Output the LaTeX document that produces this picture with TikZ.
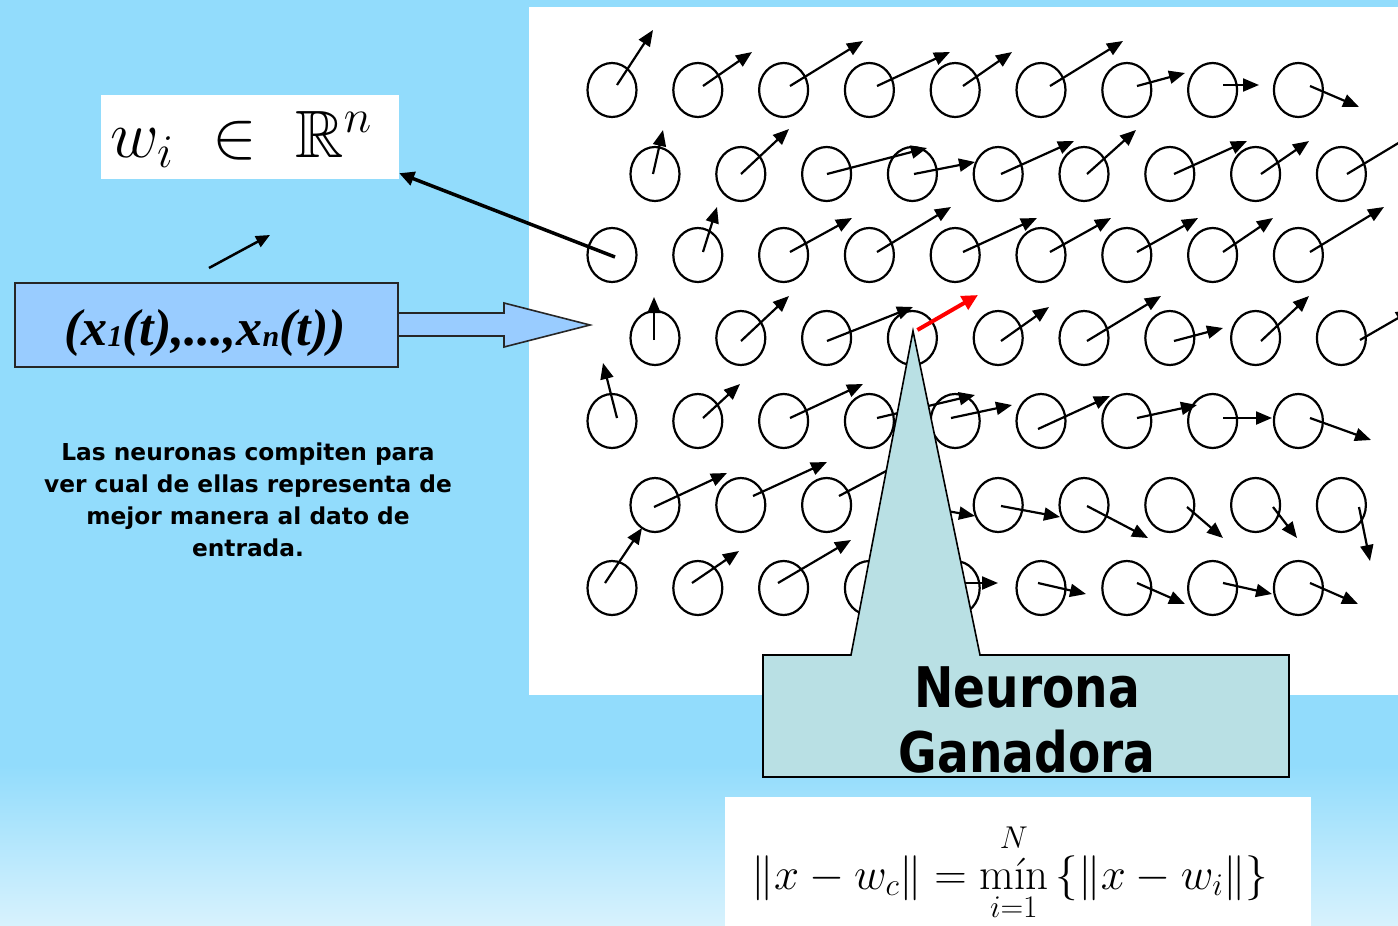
\RequirePackage{fix-cm}
\documentclass[tikz,border=0pt]{standalone}
\usepackage{amsmath,amssymb}
\DeclareFontFamily{U}{msb}{}
\DeclareFontShape{U}{msb}{m}{n}{<-> msbm10}{}
\usepackage{fontspec}
\usetikzlibrary{arrows.meta,shapes.geometric}
\newfontfamily\verdfont{DejaVu Sans}
\newfontfamily\tahfont[FakeStretch=0.84]{DejaVu Sans}
\newfontfamily\timesfont{Liberation Serif}
\definecolor{bgblue}{RGB}{146,220,252}
\definecolor{bglight}{RGB}{216,242,253}
\definecolor{inbox}{RGB}{153,204,255}
\definecolor{calloutfill}{RGB}{185,224,228}
\tikzset{
  neuron/.style={ellipse,draw=black,line width=2.2pt,minimum width=49pt,minimum height=54pt,inner sep=0pt},
  garrow/.style={line width=2.2pt,-{Triangle[length=16pt,width=13pt]}},
  bigarrow/.style={line width=3.5pt,-{Triangle[length=15pt,width=14pt]}},
  redarrow/.style={draw=red,line width=4pt,-{Triangle[length=16pt,width=15pt]}},
  smallarrow/.style={line width=2.5pt,-{Triangle[length=14pt,width=12pt]}},
  calloutbox/.style={fill=calloutfill,draw=black,line width=1.6pt,line join=miter},
  inputbox/.style={fill=inbox,draw=black!85,line width=1.6pt},
}
\begin{document}
\begin{tikzpicture}[x=1pt,y=-1pt]
\useasboundingbox (0,0) rectangle (1398,926);
% background
\fill[bgblue] (0,0) rectangle (1398,926);
\shade[top color=bgblue,bottom color=bglight] (0,765) rectangle (1398,926.5);
% white panel
\fill[white] (529,7) rectangle (1398,695);
% neurons
\foreach \r/\yy in {1/90,2/174,3/255,4/338,5/421,6/505,7/588} {
  \foreach \k in {0,...,8} {
    \pgfmathsetmacro\xx{(mod(\r,2)==1 ? 612 : 655) + 85.8*\k}
    \node[neuron] (c-\r-\k) at (\xx,\yy) {};
  }
}
% weight arrows
\foreach \a/\b/\c/\d in {
  617/85/653/30, 703/86/752/52, 790/86/863/41, 877/86/950/52, 963/86/1012/52,
  1050/86/1123/41, 1137/86/1185/73, 1223/85/1259/85, 1310/86/1359/107,
  653/174/663/130, 741/174/789/129, 827/174/927/148, 914/174/975/162, 1001/174/1074/141,
  1087/174/1136/130, 1174/174/1247/141, 1261/174/1309/141, 1347/174/1420/130,
  703/252/717/207, 790/252/852/218, 877/252/951/207, 963/252/1037/218,
  1050/252/1111/218, 1137/252/1198/218, 1223/252/1273/218, 1310/252/1384/207,
  654/340/654/297, 741/341/789/296, 827/341/913/307, 1001/341/1049/307,
  1087/341/1161/296, 1174/341/1223/328, 1261/341/1309/296, 1360/340/1412/310,
  617/418/603/363, 703/418/740/384, 790/418/863/384, 877/418/975/395, 951/418/1012/405,
  1038/429/1110/396, 1137/418/1197/405, 1223/418/1272/418, 1310/418/1371/440,
  654/507/727/473, 753/496/827/462, 839/496/905/461, 914/505/975/516, 1001/506/1060/517,
  1087/506/1148/538, 1187/507/1223/538, 1273/507/1297/538, 1359/507/1370/561,
  605/583/642/528, 692/583/739/551, 778/583/851/540, 963/583/998/583,
  1038/583/1086/594, 1137/583/1185/604, 1223/583/1272/594, 1310/583/1358/604}
  \draw[garrow] (\a,\b) -- (\c,\d);
% winner
\coordinate (wintip) at (978,295);
\draw[redarrow] ([xshift=5pt,yshift=8pt]c-4-3.center) -- (wintip);
% callout
\draw[calloutbox] (763,655) -- (851,655) -- (913,331) -- (980,655) -- (1289,655) -- (1289,777) -- (763,777) -- cycle;
\node[anchor=north,align=center,inner sep=0pt,font={\tahfont\bfseries\fontsize{56}{65}\selectfont}] (winner) at (1027,666) {Neurona\\Ganadora};
% w_i box
\node[fill=white,minimum width=298pt,minimum height=84pt,inner sep=0pt] (wbox) at (250,137) {};
\node[anchor=base,inner sep=0pt,font={\fontsize{67}{70}\selectfont}] (wtext) at (241,157) {$w_i \ \in\ \mathbb{R}^n$};
\draw[bigarrow] ([xshift=3pt,yshift=-2pt]c-3-0.center) -- ([yshift=6pt]wbox.south east);
% small arrow
\coordinate (sa1) at (209,268);
\coordinate (sa2) at (270,235);
\draw[smallarrow] (sa1) -- (sa2);
% input box and block arrow
\fill[inbox] (396,313) -- (504,313) -- (504,303) -- (590,325) -- (504,347) -- (504,336) -- (396,336) -- cycle;
\draw[draw=black!85,line width=1.6pt,line join=miter] (398,313) -- (504,313) -- (504,303) -- (590,325) -- (504,347) -- (504,336) -- (398,336);
\node[inputbox,minimum width=383pt,minimum height=84pt,inner sep=0pt] (xbox) at (206.5,325) {};
\node[anchor=base,inner sep=0pt,font={\timesfont\bfseries\itshape\fontsize{52}{56}\selectfont}] (xtext) at (205,345)
  {(x\raisebox{-1pt}{\fontsize{30}{30}\selectfont 1}(t),...,x\raisebox{-1pt}{\fontsize{30}{30}\selectfont n}(t))};
% description
\node[anchor=north,align=center,inner sep=0pt,font={\verdfont\bfseries\fontsize{23.3}{32}\selectfont}] (desc) at (248,442.5)
  {Las neuronas compiten para\\ver cual de ellas representa de\\mejor manera al dato de\\entrada.};
% formula box
\node[fill=white,minimum width=586pt,minimum height=130pt,inner sep=0pt] (fbox) at (1018,862) {};
\node[anchor=base,inner sep=0pt,font={\fontsize{45}{50}\selectfont}] (ftext) at (1010,889)
  {$\displaystyle \|x-w_c\| = \mathop{\mbox{mín}}\limits_{i=1}^{N}\left\{\|x-w_i\|\right\}$};
\end{tikzpicture}
\end{document}
